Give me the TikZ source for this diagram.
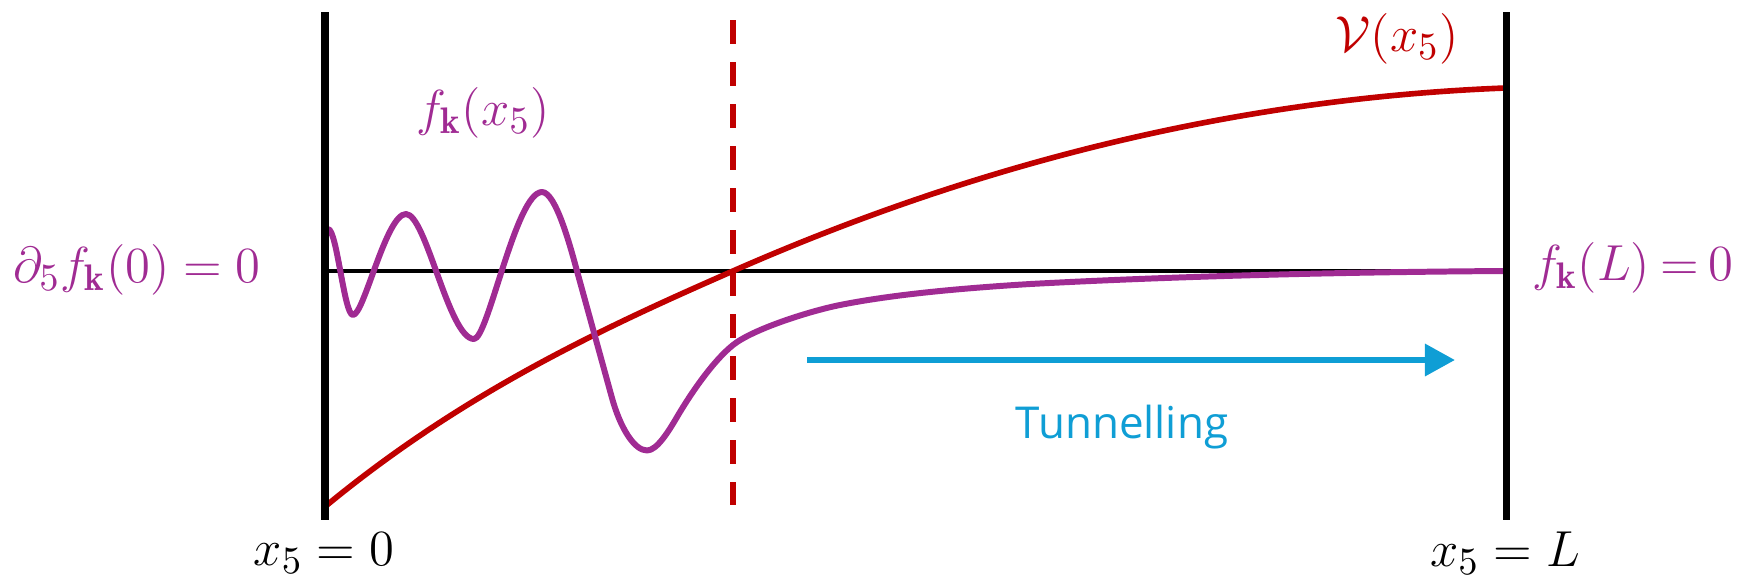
\documentclass[tikz,border=0pt]{standalone}
\usepackage{fontspec}
\setsansfont{Open Sans}
\usetikzlibrary{arrows.meta}
\definecolor{dred}{HTML}{C00000}
\definecolor{mpurple}{HTML}{A02B93}
\definecolor{tblue}{HTML}{0F9ED5}
\begin{document}
\begin{tikzpicture}[x=0.01cm,y=-0.01cm,
  wall/.style={line width=2pt,black},
  axisline/.style={line width=1.4pt,black},
  potential/.style={line width=1.6pt,dred},
  wavefn/.style={line width=1.7pt,mpurple,line join=round},
  turnline/.style={line width=1.9pt,dred,dash pattern=on 0.24cm off 0.18cm},
  tunarrow/.style={line width=1.8pt,tblue,-{Triangle[length=0.3cm,width=0.31cm]}},
  mlbl/.style={inner sep=0pt,font=\fontsize{15pt}{18pt}\selectfont},
  tlbl/.style={inner sep=0pt,text=tblue,font=\sffamily\fontsize{12.5pt}{15pt}\selectfont}]
\useasboundingbox (0,0) rectangle (1739,584);
% walls and axis
\coordinate (lwT) at (325,12);
\coordinate (lwB) at (325,520);
\coordinate (rwT) at (1506,12);
\coordinate (rwB) at (1506,520);
\coordinate (axL) at (325,271);
\coordinate (axR) at (1506,271);
\coordinate (dT) at (733,20);
\coordinate (dB) at (733,505);
\draw[axisline] (axL) -- (axR);
\draw[turnline] (dT) -- (dB);
% potential
\coordinate (vA) at (327,505);
\coordinate (vB) at (733,271);
\coordinate (vC) at (1505,88);
\draw[potential] (vA) .. controls (462,394) and (598,330) .. (vB)
  .. controls (990,158) and (1248,98) .. (vC);
% wavefunction
\coordinate (w0) at (328,229);
\coordinate (wEnd) at (1505,271);
\draw[wavefn] (w0)
  .. controls (337,229) and (344,315) .. (353,315)
  .. controls (364,315) and (386,214) .. (406,214)
  .. controls (426,214) and (449,339) .. (474,339)
  .. controls (488,339) and (516,192) .. (542,192)
  .. controls (556,192) and (571,249) .. (577,271)
  -- (612,398)
  .. controls (620,427) and (634,450.5) .. (647,450.5)
  .. controls (657,450.5) and (669,430.6) .. (677,417)
  .. controls (691,393.2) and (713,361) .. (733,345)
  .. controls (753,329) and (810,311) .. (840,305)
  .. controls (895,294) and (965,288) .. (1030,284)
  .. controls (1180,276) and (1345,272) .. (wEnd);
\draw[wall] (lwT) -- (lwB);
\draw[wall] (rwT) -- (rwB);
% tunnelling arrow
\coordinate (aS) at (807,360);
\coordinate (aE) at (1455,360);
\draw[tunarrow] (aS) -- (aE);
\node[tlbl] (tun) at (1122,427) {Tunnelling};
% labels
\node[mlbl,text=mpurple] (bc0) at (137,270) {$\partial_5 f_{\mathbf{k}}(0)=0$};
\node[mlbl,text=mpurple,anchor=east] (bcL) at (1734,268) {$\thickmuskip=3.5mu f_{\mathbf{k}}(L)=0$};
\node[mlbl,text=mpurple] (fk) at (483,113) {$f_{\mathbf{k}}(x_5)$};
\node[mlbl,text=dred] (V) at (1397,39) {$\mathcal{V}(x_5)$};
\node[mlbl] (x0) at (324,553) {$x_5=0$};
\node[mlbl] (xL) at (1505,553) {$x_5=L$};
\end{tikzpicture}
\end{document}
